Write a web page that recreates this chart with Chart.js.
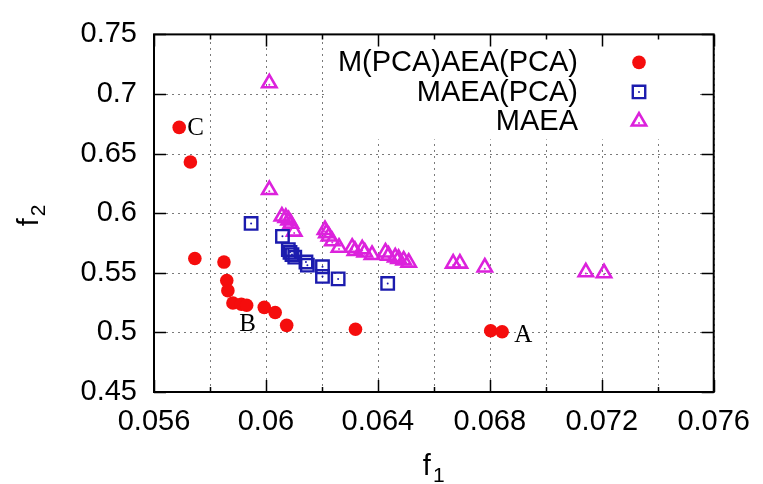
<!DOCTYPE html>
<html>
<head>
<meta charset="utf-8">
<script src="https://cdn.jsdelivr.net/npm/chart.js@4.4.0/dist/chart.umd.min.js"></script>
<style>
  html, body { margin: 0; padding: 0; background: #fff; }
</style>
</head>
<body>
<canvas id="myChart" width="763" height="484"></canvas>
<script>
// data
const seriesNames = ['M(PCA)AEA(PCA)', 'MAEA(PCA)', 'MAEA'];

const pcaPcaF1 = [0.0569, 0.0573, 0.05746, 0.0585, 0.0586, 0.05864, 0.05882, 0.05912, 0.05931, 0.05994, 0.06033, 0.06074, 0.0632, 0.06803, 0.06844];
const pcaPcaF2 = [0.672, 0.643, 0.562, 0.559, 0.5435, 0.535, 0.5247, 0.5236, 0.5228, 0.521, 0.5167, 0.5059, 0.5026, 0.5014, 0.5006];

const maeaPcaF1 = [0.05947, 0.06059, 0.0608, 0.06086, 0.06093, 0.06103, 0.06143, 0.06148, 0.06202, 0.06202, 0.06258, 0.06435];
const maeaPcaF2 = [0.5914, 0.5806, 0.5695, 0.5672, 0.5653, 0.5631, 0.5591, 0.5564, 0.5551, 0.547, 0.5449, 0.5411];

const maeaF1 = [0.06012, 0.06012, 0.06057, 0.06071, 0.06081, 0.06089, 0.06101, 0.06211, 0.06216, 0.06225, 0.06237, 0.06261, 0.06308, 0.06318,
                0.06344, 0.06353, 0.06379, 0.06427, 0.06438, 0.06462, 0.06474, 0.06492, 0.0651, 0.06669, 0.06693, 0.06782, 0.07143, 0.07208];
const maeaF2 = [0.7091, 0.6196, 0.5973, 0.5962, 0.5941, 0.5914, 0.5847, 0.586, 0.5833, 0.5806, 0.5766, 0.5712, 0.5712, 0.5685,
                0.5699, 0.5672, 0.5651, 0.5672, 0.5645, 0.5631, 0.5618, 0.5605, 0.5586, 0.5578, 0.5578, 0.5546, 0.5506, 0.5498];

// point labels A, B, C on the red front
const markLabels = ['C', 'B', 'A'];
const markIndex = [0, 7, 14];

const xMin = 0.056, xMax = 0.076, xStep = 0.002;
const yMin = 0.45, yMax = 0.75, yStep = 0.05;

const FONT = '"Liberation Sans", Arial, Helvetica, sans-serif';

function pts(xs, ys) {
    return xs.map((x, i) => ({ x: x, y: ys[i] }));
}

function dotAt(ctx, x, y, color) {
    ctx.fillStyle = color;
    ctx.beginPath();
    ctx.arc(x, y, 1, 0, Math.PI * 2);
    ctx.fill();
}

const gnuplotLook = {
    id: 'gnuplotLook',
    beforeDatasetsDraw(chart) {
        const ctx = chart.ctx;
        const a = chart.chartArea;
        const xs = chart.scales.x, ys = chart.scales.y;
        ctx.save();
        // dotted grid
        ctx.strokeStyle = '#7a7a7a';
        ctx.lineWidth = 1;
        ctx.setLineDash([2, 4]);
        ctx.beginPath();
        xs.ticks.forEach(t => {
            const px = Math.round(xs.getPixelForValue(t.value)) + 0.5;
            ctx.moveTo(px, a.bottom); ctx.lineTo(px, a.top);
        });
        ys.ticks.forEach(t => {
            const py = Math.round(ys.getPixelForValue(t.value)) + 0.5;
            ctx.moveTo(a.left, py); ctx.lineTo(a.right, py);
        });
        ctx.stroke();
        ctx.setLineDash([]);

        // key box hides the grid behind it
        ctx.fillStyle = '#fff';
        ctx.fillRect(a.left + 173, a.top + 1, 371, 104);
        ctx.font = '29px ' + FONT;
        ctx.textAlign = 'right';
        ctx.textBaseline = 'middle';
        chart.data.datasets.forEach((ds, i) => {
            const y = a.top + 28 + i * 29.5;
            ctx.fillStyle = '#000';
            ctx.fillText(ds.label, a.left + 424, y + 1);
            ctx.fillStyle = ds.backgroundColor;
            ctx.strokeStyle = ds.borderColor;
            ctx.lineWidth = ds.borderWidth;
            Chart.helpers.drawPoint(ctx, { pointStyle: ds.pointStyle, radius: ds.pointRadius, borderWidth: ds.borderWidth, rotation: 0 }, a.left + 485, y);
            if (ds.borderWidth > 0) dotAt(ctx, a.left + 485, y + (ds.pointStyle === 'triangle' ? 1.5 : 0), ds.borderColor);
        });
        ctx.restore();
    },
    afterDatasetsDraw(chart) {
        const ctx = chart.ctx;
        ctx.save();
        // small centre dots of the open markers
        chart.data.datasets.forEach((ds, i) => {
            if (!(ds.borderWidth > 0)) return;
            chart.getDatasetMeta(i).data.forEach(p => {
                dotAt(ctx, p.x, p.y + (ds.pointStyle === 'triangle' ? 1.5 : 0), ds.borderColor);
            });
        });
        // A, B, C
        const red = chart.getDatasetMeta(0).data;
        const offs = [[8, 1], [-2, 20], [12, 4]];
        ctx.font = '25px "Liberation Serif", "Times New Roman", serif';
        ctx.fillStyle = '#000';
        ctx.textAlign = 'left';
        ctx.textBaseline = 'middle';
        markLabels.forEach((t, i) => {
            const p = red[markIndex[i]];
            ctx.fillText(t, p.x + offs[i][0], p.y + offs[i][1]);
        });
        ctx.restore();
    },
    afterDraw(chart) {
        const ctx = chart.ctx;
        const a = chart.chartArea;
        const xs = chart.scales.x, ys = chart.scales.y;
        ctx.save();
        ctx.strokeStyle = '#000';
        ctx.lineWidth = 2;
        ctx.strokeRect(a.left, a.top, a.right - a.left, a.bottom - a.top);
        ctx.lineWidth = 1.5;
        ctx.beginPath();
        xs.ticks.forEach(t => {
            const px = Math.round(xs.getPixelForValue(t.value)) + 0.5;
            const len = Math.round(t.value * 1000) % 4 === 0 ? 12 : 5;
            ctx.moveTo(px, a.bottom); ctx.lineTo(px, a.bottom - len);
            ctx.moveTo(px, a.top); ctx.lineTo(px, a.top + len);
        });
        ys.ticks.forEach(t => {
            const py = Math.round(ys.getPixelForValue(t.value)) + 0.5;
            ctx.moveTo(a.left, py); ctx.lineTo(a.left + 12, py);
            ctx.moveTo(a.right, py); ctx.lineTo(a.right - 12, py);
        });
        ctx.stroke();

        // axis titles with subscripts
        ctx.fillStyle = '#000';
        ctx.textAlign = 'left';
        ctx.textBaseline = 'alphabetic';
        ctx.font = '29px ' + FONT;
        const fw = ctx.measureText('f').width;
        const cx = (a.left + a.right) / 2;
        ctx.fillText('f', cx - 11, 475);
        ctx.font = '21px ' + FONT;
        ctx.fillText('1', cx - 11 + fw + 2, 482);

        ctx.translate(38, (a.top + a.bottom) / 2 + 13);
        ctx.rotate(-Math.PI / 2);
        ctx.font = '29px ' + FONT;
        ctx.fillText('f', 0, 0);
        ctx.font = '21px ' + FONT;
        ctx.fillText('2', fw + 2, 7);
        ctx.restore();
    }
};

const ctx = document.getElementById('myChart').getContext('2d');
const myChart = new Chart(ctx, {
    type: 'scatter',
    data: {
        datasets: [{
            label: seriesNames[0],
            data: pts(pcaPcaF1, pcaPcaF2),
            pointStyle: 'circle',
            pointRadius: 6.8,
            backgroundColor: '#f50d0d',
            borderColor: '#f50d0d',
            borderWidth: 0
        }, {
            label: seriesNames[1],
            data: pts(maeaPcaF1, maeaPcaF2),
            pointStyle: 'rect',
            pointRadius: 8.8,
            backgroundColor: 'rgba(0,0,0,0)',
            borderColor: '#1c1cae',
            borderWidth: 2.4
        }, {
            label: seriesNames[2],
            data: pts(maeaF1, maeaF2),
            pointStyle: 'triangle',
            pointRadius: 8.3,
            backgroundColor: 'rgba(0,0,0,0)',
            borderColor: '#dc22dc',
            borderWidth: 2.6
        }]
    },
    options: {
        responsive: false,
        animation: false,
        events: [],
        layout: { padding: { top: 20, right: 46, left: 0, bottom: 0 } },
        plugins: {
            legend: { display: false },
            tooltip: { enabled: false }
        },
        scales: {
            x: {
                type: 'linear',
                min: xMin,
                max: xMax,
                afterFit: (s) => { s.height = 92; },
                grid: { display: false, drawTicks: false },
                border: { display: false },
                ticks: {
                    stepSize: xStep,
                    autoSkip: false,
                    maxRotation: 0,
                    padding: 13,
                    color: '#000',
                    font: { family: FONT, size: 29 },
                    callback: (v) => Math.round(v * 1000) % 4 === 0 ? String(+v.toFixed(3)) : ''
                }
            },
            y: {
                type: 'linear',
                min: yMin,
                max: yMax,
                afterFit: (s) => { s.width = 154; },
                grid: { display: false, drawTicks: false },
                border: { display: false },
                ticks: {
                    stepSize: yStep,
                    padding: 17,
                    color: '#000',
                    font: { family: FONT, size: 29 },
                    callback: (v) => String(+v.toFixed(2))
                }
            }
        }
    },
    plugins: [gnuplotLook]
});
</script>
</body>
</html>
